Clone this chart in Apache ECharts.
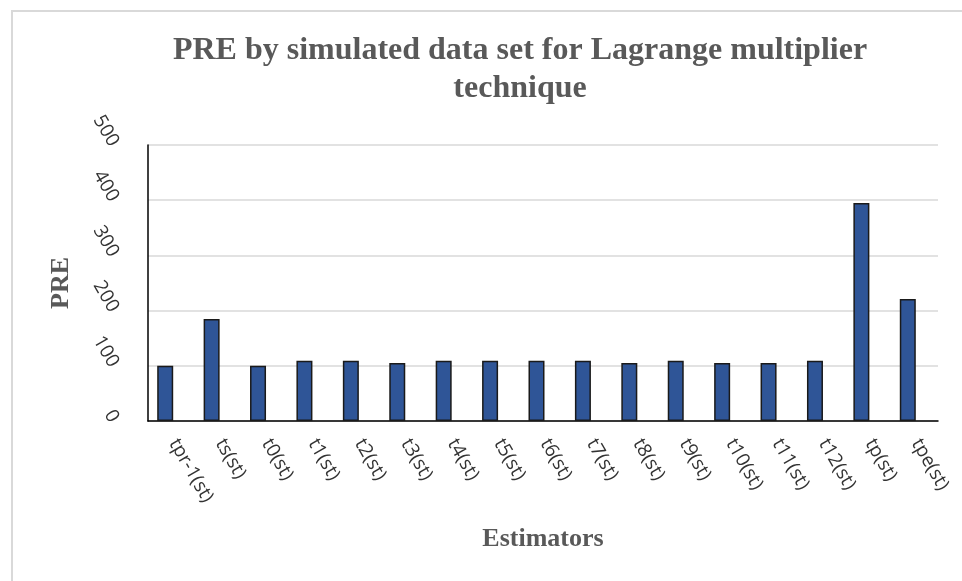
<!DOCTYPE html>
<html>
<head>
<meta charset="utf-8">
<script src="https://cdn.jsdelivr.net/npm/echarts@6/dist/echarts.min.js"></script>
<style>
  html, body { margin: 0; padding: 0; background: #ffffff; }
  #chart { width: 962px; height: 581px; }
</style>
</head>
<body>
<div id="chart"></div>
<script>
// Estimators and their PRE values (Lagrange multiplier technique)
const estimators = ['tpr-1(st)', 'ts(st)', 't0(st)', 't1(st)', 't2(st)', 't3(st)', 't4(st)', 't5(st)', 't6(st)',
  't7(st)', 't8(st)', 't9(st)', 't10(st)', 't11(st)', 't12(st)', 'tp(st)', 'tpe(st)'];
const preValues = [100, 185, 100, 109, 109, 105, 109, 109, 109, 109, 105, 109, 105, 105, 109, 395, 221];
const yTicks = [0, 100, 200, 300, 400, 500];

const serif = '"Liberation Serif", "DejaVu Serif", serif';
const sans = '"Open Sans", "Liberation Sans", sans-serif';
const textGrey = '#595959';

const chart = echarts.init(document.getElementById('chart'));
chart.setOption({
  backgroundColor: '#ffffff',
  animation: false,
  title: {
    text: 'PRE by simulated data set for Lagrange multiplier\ntechnique',
    left: 515,
    textAlign: 'center',
    top: 27,
    textStyle: {
      fontFamily: serif, fontWeight: 'bold', fontSize: 32, lineHeight: 38, color: textGrey
    }
  },
  graphic: [{
    type: 'rect',
    shape: { x: 12, y: 11, width: 980, height: 600 },
    style: { fill: 'none', stroke: '#d9d9d9', lineWidth: 2 },
    silent: true
  }],
  grid: [
    // frame: gridlines and axis lines
    { left: 148, top: 145, width: 790, height: 276 },
    // bars and category labels
    { left: 142, top: 145, width: 789, height: 276 }
  ],
  xAxis: [{
    type: 'category',
    gridIndex: 0,
    data: estimators,
    axisLine: { lineStyle: { color: '#000000', width: 1.5 } },
    axisTick: { show: false },
    axisLabel: { show: false },
    name: 'Estimators',
    nameLocation: 'middle',
    nameGap: 105,
    nameTextStyle: { fontFamily: serif, fontWeight: 'bold', fontSize: 26, color: textGrey }
  }, {
    type: 'category',
    gridIndex: 1,
    data: estimators,
    axisLine: { show: false },
    axisTick: { show: false },
    axisLabel: {
      rotate: -60, margin: 24, interval: 0, verticalAlign: 'bottom',
      fontFamily: sans, fontSize: 19, color: '#333333'
    }
  }],
  yAxis: [{
    type: 'value',
    gridIndex: 0,
    min: yTicks[0], max: yTicks[yTicks.length - 1], interval: 100,
    axisLine: { show: true, lineStyle: { color: '#000000', width: 1.5 } },
    axisTick: { show: false },
    splitLine: { lineStyle: { color: '#d9d9d9', width: 1.5 } },
    axisLabel: {
      rotate: -60, margin: 34,
      fontFamily: sans, fontSize: 19, color: '#333333'
    },
    name: 'PRE',
    nameLocation: 'middle',
    nameRotate: 90,
    nameGap: 74,
    nameTextStyle: { fontFamily: serif, fontWeight: 'bold', fontSize: 26, color: textGrey }
  }, {
    type: 'value',
    gridIndex: 1,
    min: yTicks[0], max: yTicks[yTicks.length - 1], interval: 100,
    show: false
  }],
  series: [{
    type: 'bar',
    xAxisIndex: 1,
    yAxisIndex: 1,
    data: preValues,
    barWidth: 16,
    itemStyle: { color: '#2f5597', borderColor: '#1a1a1a', borderWidth: 1.5 }
  }]
});
</script>
</body>
</html>
